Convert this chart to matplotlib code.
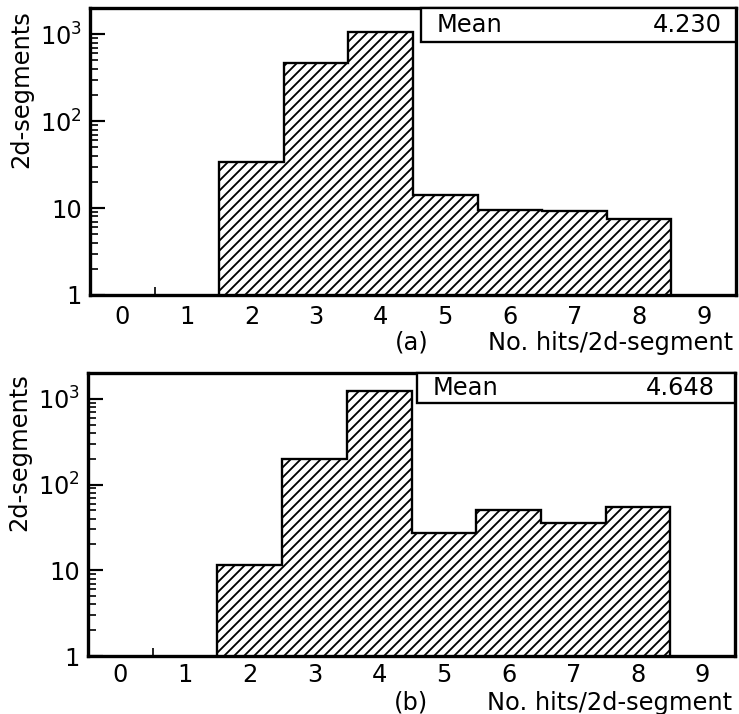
import numpy as np
import matplotlib.pyplot as plt
from matplotlib.patches import Rectangle
from matplotlib.ticker import LogLocator, NullFormatter

plt.rcParams['font.family'] = ['DejaVu Sans']
plt.rcParams['hatch.linewidth'] = 1.1

# hits per 2d-segment (bin centres) and counts for the two samples
bins = [2, 3, 4, 5, 6, 7, 8]
counts_a = [34, 466, 1050, 14, 9.4, 9.3, 7.4]
counts_b = [11.4, 200, 1240, 27, 50, 36, 54]
means = ['4.230', '4.648']
tags = ['(a)', '(b)']

ytick_vals = [1, 10, 100, 1000]
ytick_labels = ['1', '10', '10$^2$', '10$^3$']

FS = 14.5

fig = plt.figure(figsize=(739 / 120, 714 / 120), dpi=120)
ax_a = fig.add_axes([90 / 739, 1 - 295 / 714, 646 / 739, 287 / 714])
ax_b = fig.add_axes([88 / 739, 1 - 656 / 714, 647 / 739, 283 / 714])


def draw_panel(ax, counts, mean, tag, box_x, box_y, val_x, xlab_y, xpad):
    edges = np.arange(len(counts) + 1) + bins[0] - 0.5
    ax.stairs(counts, edges, baseline=1, fill=True, facecolor='white',
              edgecolor='black', hatch='////', linewidth=1.4, zorder=2)

    ax.set_yscale('log')
    ax.set_xlim(-0.5, 9.5)
    ax.set_ylim(1, 2000)

    ax.set_yticks(ytick_vals)
    ax.set_yticklabels(ytick_labels)
    ax.yaxis.set_minor_locator(LogLocator(subs=range(2, 10)))
    ax.yaxis.set_minor_formatter(NullFormatter())
    ax.tick_params(axis='y', which='major', direction='in', length=9,
                   width=1.3, labelsize=FS, pad=5)
    ax.tick_params(axis='y', which='minor', direction='in', length=5, width=1)

    ax.set_xticks(range(10))
    ax.set_xticks(np.arange(0.5, 9, 1), minor=True)
    ax.tick_params(axis='x', which='major', length=0, pad=xpad, labelsize=FS)
    ax.tick_params(axis='x', which='minor', direction='in', length=5, width=1)

    for sp in ax.spines.values():
        sp.set_linewidth(2.0)

    # statistics box in the upper right corner
    ax.add_patch(Rectangle((box_x, box_y), 1 - box_x, 1 - box_y,
                           transform=ax.transAxes, facecolor='white',
                           edgecolor='black', linewidth=1.4, zorder=5,
                           clip_on=False))
    ymid = (1 + box_y) / 2
    ax.text(box_x + 0.025, ymid, 'Mean', transform=ax.transAxes,
            ha='left', va='center', fontsize=FS, zorder=6)
    ax.text(val_x, ymid, mean, transform=ax.transAxes,
            ha='right', va='center', fontsize=FS, zorder=6)

    ax.set_ylabel('2d-segments', loc='top', fontsize=FS)
    ax.text(0.472, xlab_y, tag, transform=ax.transAxes,
            ha='left', va='top', fontsize=FS)
    ax.text(0.995, xlab_y, 'No. hits/2d-segment', transform=ax.transAxes,
            ha='right', va='top', fontsize=FS)


draw_panel(ax_a, counts_a, means[0], tags[0], 0.512, 0.882, 0.978, -0.125, 6)
draw_panel(ax_b, counts_b, means[1], tags[1], 0.508, 0.894, 0.969, -0.122, 4)
ax_a.yaxis.set_label_coords(-0.088, 0.993)
ax_b.yaxis.set_label_coords(-0.087, 1.0)

fig.savefig('out.png', dpi=120)
